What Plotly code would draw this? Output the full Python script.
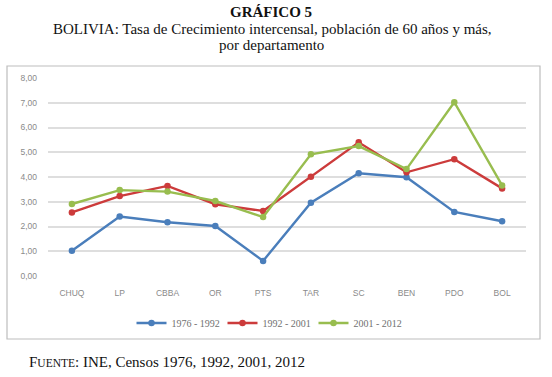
import plotly.graph_objects as go

categories = ["CHUQ", "LP", "CBBA", "OR", "PTS", "TAR", "SC", "BEN", "PDO", "BOL"]
s1976_1992 = [1.02, 2.40, 2.17, 2.02, 0.61, 2.96, 4.15, 3.99, 2.59, 2.21]
s1992_2001 = [2.57, 3.23, 3.64, 2.90, 2.63, 4.01, 5.40, 4.19, 4.72, 3.54]
s2001_2012 = [2.91, 3.47, 3.41, 3.03, 2.38, 4.92, 5.25, 4.32, 7.02, 3.66]
series_names = ["1976 - 1992", "1992 - 2001", "2001 - 2012"]
series_colors = ["#4a7ebb", "#cc3b3b", "#98bd4f"]
y_ticks = [0, 1, 2, 3, 4, 5, 6, 7, 8]

W, H = 552, 377
L, R, T, B = 48, 526, 78, 276  # plot area in pixels


def px(x):
    return (x - L) / (R - L)


def py(y):
    return (B - y) / (B - T)


fig = go.Figure()
for name, vals, col in zip(series_names, [s1976_1992, s1992_2001, s2001_2012], series_colors):
    fig.add_trace(go.Scatter(
        x=categories, y=vals, name=name, mode="lines+markers",
        line=dict(color=col, width=2.4),
        marker=dict(color=col, size=6.5, symbol="circle"),
    ))

fig.update_layout(
    width=W, height=H,
    margin=dict(l=L, r=W - R, t=T, b=H - B),
    paper_bgcolor="white", plot_bgcolor="white",
    separators=",.",
    showlegend=True,
    legend=dict(
        orientation="h", x=px(268), xanchor="center", y=py(323), yanchor="middle",
        font=dict(family="Liberation Serif, serif", size=10, color="#707070"),
        entrywidth=46, entrywidthmode="pixels", itemwidth=30,
        bgcolor="rgba(0,0,0,0)",
    ),
    xaxis=dict(
        range=[-0.5, 9.5], showgrid=False, zeroline=False, showline=False,
        ticks="", tickfont=dict(family="Liberation Sans, Arial, sans-serif", size=8.5, color="#8a8a8a"),
        ticklabelstandoff=10,
    ),
    yaxis=dict(
        range=[0, 8], tickvals=y_ticks, tickformat=".2f",
        showgrid=True, gridcolor="#dedede", gridwidth=1.5,
        zeroline=False, showline=False, ticks="",
        tickfont=dict(family="Liberation Sans, Arial, sans-serif", size=8.5, color="#8a8a8a"),
        ticklabelstandoff=10,
    ),
)

# chart frame box
fig.add_shape(type="rect", xref="paper", yref="paper",
              x0=px(7), x1=px(540), y0=py(66), y1=py(339),
              line=dict(color="#bdbdbd", width=1.2), layer="below")

serif = "Liberation Serif, Times New Roman, serif"
fig.add_annotation(text="<b>GRÁFICO 5</b>", xref="paper", yref="paper",
                   x=px(271), y=py(12), showarrow=False,
                   font=dict(family=serif, size=15, color="#111"), xanchor="center", yanchor="middle")
fig.add_annotation(text="BOLIVIA: Tasa de Crecimiento intercensal, población de 60 años y más,",
                   xref="paper", yref="paper", x=px(272), y=py(29), showarrow=False,
                   font=dict(family=serif, size=15, color="#111"), xanchor="center", yanchor="middle")
fig.add_annotation(text="por departamento",
                   xref="paper", yref="paper", x=px(271), y=py(45), showarrow=False,
                   font=dict(family=serif, size=15, color="#111"), xanchor="center", yanchor="middle")
fig.add_annotation(text="F<span style='font-size:11.5px'>UENTE</span>: INE, Censos 1976, 1992, 2001, 2012",
                   xref="paper", yref="paper", x=px(27), y=py(362), showarrow=False,
                   font=dict(family=serif, size=15, color="#111"), xanchor="left", yanchor="middle")

fig.write_html("out.html", config={"displayModeBar": False},
               post_script="document.body.style.margin='0';document.body.style.overflow='hidden';")
